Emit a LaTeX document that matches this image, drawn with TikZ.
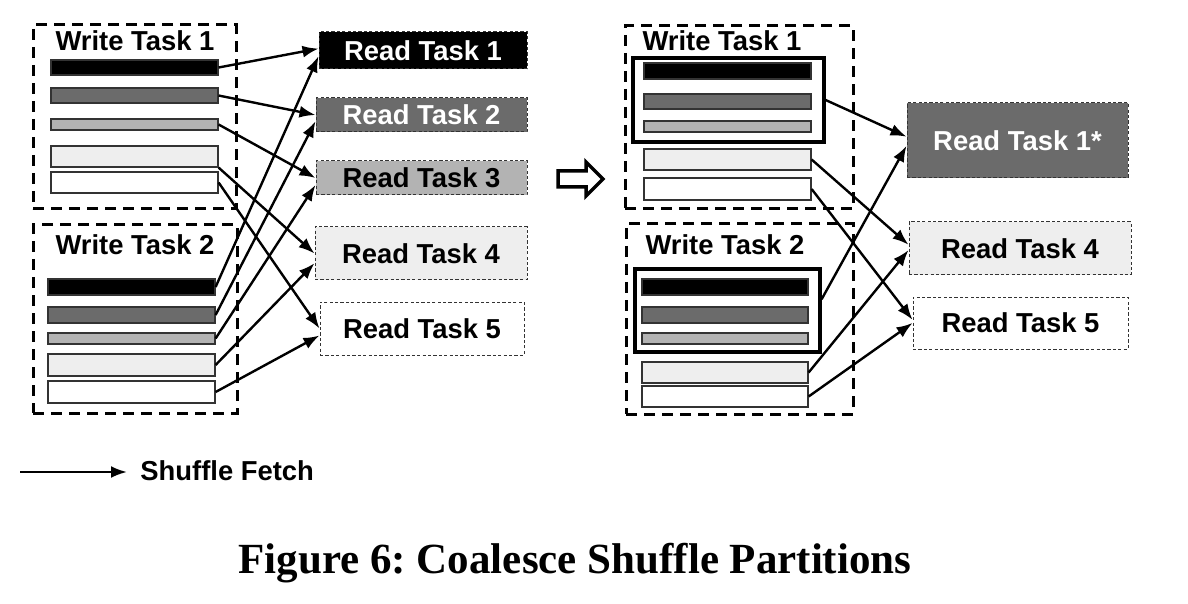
\documentclass[tikz,border=0pt]{standalone}
\usepackage{fontspec}
\setmainfont{Liberation Sans}
\newfontfamily\capfont{Liberation Serif}
\usetikzlibrary{arrows.meta,fit,calc}
\definecolor{dg}{HTML}{6B6B6B}
\definecolor{mg}{HTML}{B3B3B3}
\definecolor{lg}{HTML}{EEEEEE}
\tikzset{
 wbox/.style={draw, line width=1.5pt, dash pattern=on 5.5pt off 3.5pt, inner sep=0pt},
 bar/.style={draw=black!80, line width=0.6pt, inner sep=0pt},
 grp/.style={draw, line width=1.6pt, inner sep=0pt, fill=white},
 rtask/.style={draw=black!80, line width=0.5pt, dash pattern=on 1.6pt off 1.1pt, inner sep=0pt},
 lbl/.style={font=\fontsize{13.7}{16}\selectfont\bfseries, inner sep=0pt},
 fetch/.style={line width=1.2pt, -{Latex[length=8pt,width=6pt]}},
}
\begin{document}
\begin{tikzpicture}[x=0.5pt,y=-0.5pt]
\useasboundingbox (0,0) rectangle (1188,604);
% ---------- left: write tasks ----------
\node[wbox, fit={(33,25) (236,209)}] (lw1) {};
\node[wbox, fit={(33,225) (237,413)}] (lw2) {};
\node[lbl] (lw1t) at (135,41) {Write Task 1};
\node[lbl] (lw2t) at (135,245) {Write Task 2};
\node[bar, fill=black, fit={(51,60) (218,75)}] (a1) {};
\node[bar, fill=dg, fit={(51,88) (218,103)}] (a2) {};
\node[bar, fill=mg, fit={(51,119) (218,130)}] (a3) {};
\node[bar, fill=lg, fit={(51,146) (218,167)}] (a4) {};
\node[bar, fill=white, fit={(51,172) (218,193)}] (a5) {};
\node[bar, fill=black, fit={(48,279) (215,295)}] (b1) {};
\node[bar, fill=dg, fit={(48,307) (215,323)}] (b2) {};
\node[bar, fill=mg, fit={(48,333) (215,344)}] (b3) {};
\node[bar, fill=lg, fit={(48,354) (215,376)}] (b4) {};
\node[bar, fill=white, fit={(48,381) (215,403)}] (b5) {};
% ---------- left: read tasks ----------
\node[rtask, fill=black, fit={(319,32) (527,69)}, label={[lbl,text=white]center:Read Task 1}] (r1) {};
\node[rtask, fill=dg, fit={(316,98) (527,132)}, label={[lbl,text=white]center:Read Task 2}] (r2) {};
\node[rtask, fill=mg, fit={(316,161) (527,195)}, label={[lbl]center:Read Task 3}] (r3) {};
\node[rtask, fill=lg, fit={(315,227) (527,280)}, label={[lbl]center:Read Task 4}] (r4) {};
\node[rtask, fill=white, fit={(320,302) (524,355)}, label={[lbl]center:Read Task 5}] (r5) {};
% ---------- left: fetches ----------
\draw[fetch] (a1.east) -- ($(r1.north west)!0.45!(r1.south west)$);
\draw[fetch] (a2.east) -- ($(r2.north west)!0.5!(r2.south west)$);
\draw[fetch] (a3.east) -- ($(r3.north west)!0.5!(r3.south west)$);
\draw[fetch] (a4.south east) -- ($(r4.north west)!0.5!(r4.south west)$);
\draw[fetch] (a5.east) -- ($(r5.north west)!0.5!(r5.south west)$);
\draw[fetch] (b1.east) -- ($(r1.north west)!0.65!(r1.south west)$);
\draw[fetch] (b2.east) -- ($(r2.north west)!0.68!(r2.south west)$);
\draw[fetch] (b3.east) -- ($(r3.north west)!0.7!(r3.south west)$);
\draw[fetch] (b4.east) -- ($(r4.north west)!0.68!(r4.south west)$);
\draw[fetch] (b5.east) -- ($(r5.north west)!0.63!(r5.south west)$);
% ---------- hollow arrow ----------
\draw[line width=1.75pt, line join=miter] (558,171) -- (586,171) -- (586,162) -- (603,179) -- (586,196) -- (586,187) -- (558,187) -- cycle;
% ---------- right: write tasks ----------
\node[wbox, fit={(625,26) (853,209)}] (rw1) {};
\node[wbox, fit={(626,224) (853,414)}] (rw2) {};
\node[lbl] (rw1t) at (722,41) {Write Task 1};
\node[lbl] (rw2t) at (725,245) {Write Task 2};
\node[grp, fit={(633,58) (824,142)}] (g1) {};
\node[grp, fit={(635,269) (820,352)}] (g2) {};
\node[bar, fill=black, fit={(644,63) (811,79)}] (c1) {};
\node[bar, fill=dg, fit={(644,94) (811,109)}] (c2) {};
\node[bar, fill=mg, fit={(644,121) (811,132)}] (c3) {};
\node[bar, fill=lg, fit={(644,149) (811,170)}] (c4) {};
\node[bar, fill=white, fit={(644,178) (811,200)}] (c5) {};
\node[bar, fill=black, fit={(642,279) (808,295)}] (d1) {};
\node[bar, fill=dg, fit={(642,307) (808,323)}] (d2) {};
\node[bar, fill=mg, fit={(642,333) (808,344)}] (d3) {};
\node[bar, fill=lg, fit={(642,362) (808,383)}] (d4) {};
\node[bar, fill=white, fit={(642,386) (808,407)}] (d5) {};
% ---------- right: read tasks ----------
\node[rtask, fill=dg, fit={(907,103) (1128,178)}, label={[lbl,text=white]center:Read Task 1*}] (s1) {};
\node[rtask, fill=lg, fit={(909,222) (1131,275)}, label={[lbl]center:Read Task 4}] (s4) {};
\node[rtask, fill=white, fit={(913,297) (1128,349)}, label={[lbl]center:Read Task 5}] (s5) {};
% ---------- right: fetches ----------
\draw[fetch] (g1.east) -- ($(s1.north west)!0.45!(s1.south west)$);
\draw[fetch] ($(g2.north east)!0.37!(g2.south east)$) -- ($(s1.north west)!0.57!(s1.south west)$);
\draw[fetch] (c4.east) -- ($(s4.north west)!0.43!(s4.south west)$);
\draw[fetch] (c5.east) -- ($(s5.north west)!0.44!(s5.south west)$);
\draw[fetch] (d4.east) -- ($(s4.north west)!0.53!(s4.south west)$);
\draw[fetch] (d5.east) -- ($(s5.north west)!0.5!(s5.south west)$);
% ---------- legend ----------
\coordinate (l0) at (20,472);
\coordinate (l1) at (127,472);
\draw[fetch] (l0) -- (l1);
\node[lbl, anchor=west] (lt) at (140,471) {Shuffle Fetch};
% ---------- caption ----------
\node[font=\capfont\fontsize{21.5}{26}\selectfont\bfseries, anchor=base, inner sep=0pt] (cap) at (575,573) {\frenchspacing Figure 6: Coalesce Shuffle Partitions};
\end{tikzpicture}
\end{document}
